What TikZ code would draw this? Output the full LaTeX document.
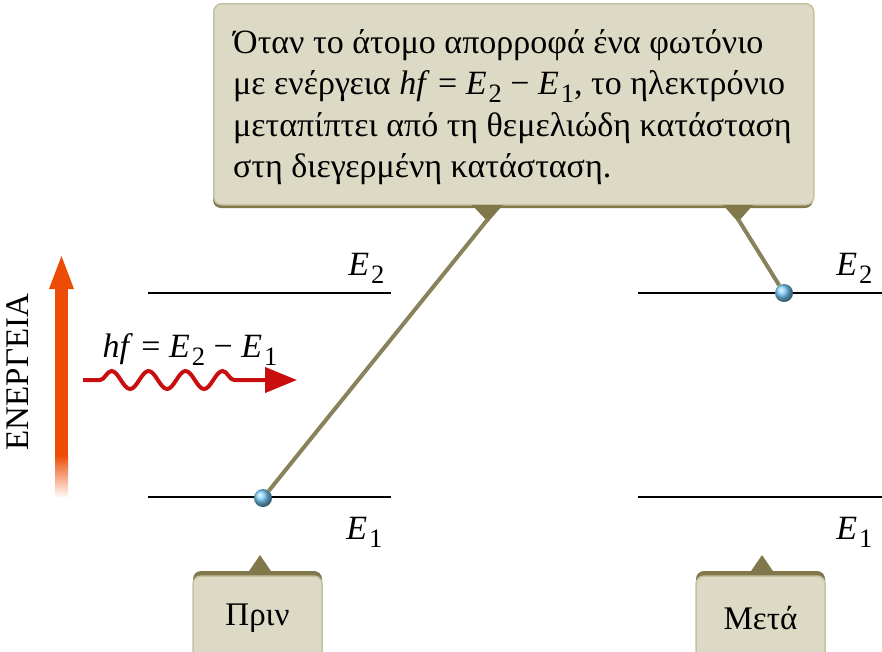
\documentclass[tikz,border=0pt]{standalone}
\usepackage{fontspec}
\setmainfont{Liberation Serif}
\usetikzlibrary{arrows.meta,positioning,calc,decorations.pathmorphing}

\definecolor{boxfill}{RGB}{220,218,196}
\definecolor{boxedge}{RGB}{196,193,160}
\definecolor{boxdark}{RGB}{128,120,75}
\definecolor{tagolive}{RGB}{138,130,90}
\definecolor{energy}{RGB}{236,76,6}
\definecolor{energylight}{RGB}{246,134,40}
\definecolor{photonred}{RGB}{200,14,14}
\definecolor{electron}{RGB}{120,205,248}

\newcommand{\En}[1]{\textit{E}\kern0.06em\raisebox{-0.24em}{\scalebox{0.78}{#1}}}
\newcommand{\hfrel}{\textit{hf} = \En{2} − \En{1}}

\begin{document}
\begin{tikzpicture}[x=1pt,y=-1pt,>=Stealth,
  level/.style={line width=2.5pt,black},
  notebox/.style={fill=boxfill,draw=boxedge,line width=1.5pt,rounded corners=8pt,inner sep=0pt},
  pointerline/.style={tagolive,line width=4pt},
  elec/.style={circle,minimum size=18pt,inner sep=0pt,shading=ball,ball color=electron},
  elabel/.style={font=\fontsize{34}{40}\selectfont,anchor=base east},
  photonwave/.style={photonred,line width=4pt,decorate,
    decoration={snake,amplitude=9pt,segment length=37pt,pre length=17pt,post length=18pt}},
]
\useasboundingbox (0,0) rectangle (882,651);
%% callout on top
\fill[boxdark,rounded corners=8pt] (213,12) rectangle (813,208);
\node[notebox,minimum width=600pt,minimum height=201pt,anchor=north west] (note) at (213,3) {};
\node[anchor=north west,align=left,inner sep=0pt,font=\fontsize{34}{41.5}\selectfont] (notetext) at (233,29)
  {Όταν το άτομο απορροφά ένα φωτόνιο\\
   με ενέργεια \hfrel, το ηλεκτρόνιο\\
   μεταπίπτει από τη θεμελιώδη κατάσταση\\
   στη διεγερμένη κατάσταση.};
\fill[boxdark] (472,205) -- (503,205) -- (488,222) -- cycle;
\fill[boxdark] (723,205) -- (753,205) -- (738,222) -- cycle;
\coordinate (tipbefore) at (488,219);
\coordinate (tipafter) at (738,219);

%% energy levels
\coordinate (b2w) at (148,293); \coordinate (b2e) at (391,293);
\coordinate (b1w) at (148,497); \coordinate (b1e) at (391,497);
\coordinate (a2w) at (638,293); \coordinate (a2e) at (882,293);
\coordinate (a1w) at (638,497); \coordinate (a1e) at (882,497);
\draw[level] (b2w) -- (b2e);
\draw[level] (b1w) -- (b1e);
\draw[level] (a2w) -- (a2e);
\draw[level] (a1w) -- (a1e);
\node[elabel] (lb2) at (388,275) {\En{2}};
\node[elabel] (lb1) at (386,539) {\En{1}};
\node[elabel] (la2) at (876,275) {\En{2}};
\node[elabel] (la1) at (876,539) {\En{1}};

%% electrons
\node[elec] (ebefore) at (263,498) {};
\node[elec] (eafter) at (784,293) {};
\draw[pointerline] (tipbefore) -- (ebefore);
\draw[pointerline] (tipafter) -- (eafter);

%% energy axis
\fill[energy] (55,286) rectangle (68,455);
\shade[top color=energy,middle color=energylight,bottom color=white] (55,455) rectangle (68,498);
\fill[energy] (49,289) -- (74,289) -- (61.5,256) -- cycle;
\node[rotate=90,font=\fontsize{33}{38}\selectfont] (axis) at (18,372) {ΕΝΕΡΓΕΙΑ};

%% photon
\node[anchor=base west,font=\fontsize{34}{40}\selectfont] (hflabel) at (99,357) {\hfrel};
\coordinate (phA) at (83,380);
\coordinate (phB) at (297,380);
\draw[photonwave] (phA) -- ($(phB)+(-30,0)$);
\draw[photonred,line width=4pt,-{Triangle[length=32pt,width=25pt]}] ($(phB)+(-32,0)$) -- (phB);

%% before / after tags
\fill[boxdark] (245,577) -- (275,577) -- (260,555) -- cycle;
\fill[boxdark] (747,577) -- (777,577) -- (762,555) -- cycle;
\fill[boxdark,rounded corners=8pt] (193,571) rectangle (322,610);
\fill[boxdark,rounded corners=8pt] (696,571) rectangle (825,610);
\node[notebox,minimum width=129pt,minimum height=84pt,font=\fontsize{33}{38}\selectfont] (before) at (257.5,618) {Πριν};
\node[notebox,minimum width=129pt,minimum height=84pt,font=\fontsize{33}{38}\selectfont] (after) at (760.5,618) {Μετά};
\end{tikzpicture}
\end{document}
